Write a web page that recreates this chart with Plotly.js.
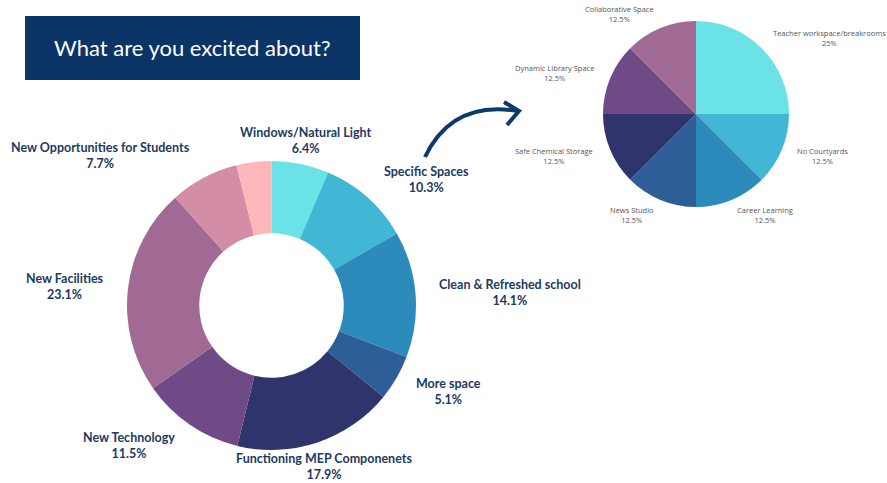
<!DOCTYPE html>
<html>
<head>
<meta charset="utf-8">
<script src="https://cdn.plot.ly/plotly-3.0.1.min.js"></script>
<style>html,body{margin:0;padding:0;background:#fff;}#chart{width:887px;height:483px;}</style>
</head>
<body>
<div id="chart"></div>
<script>
// ---- Data ----
var titleText = "What are you excited about?";

var donutLabels = ["Windows/Natural Light", "Specific Spaces", "Clean & Refreshed school", "More space",
  "Functioning MEP Componenets", "New Technology", "New Facilities", "New Opportunities for Students", "Other"];
var donutValues = [6.4, 10.3, 14.1, 5.1, 17.9, 11.5, 23.1, 7.7, 3.9];
var donutColors = ["#6BE3E6", "#42B7D5", "#2C8BBB", "#2E5E98", "#30346C", "#704A86", "#A16A95", "#D48DA7", "#FDB6B9"];
var donutShowLabel = [true, true, true, true, true, true, true, true, false];

var pieLabels = ["Teacher workspace/breakrooms", "No Courtyards", "Career Learning", "News Studio",
  "Safe Chemical Storage", "Dynamic Library Space", "Collaborative Space"];
var pieValues = [25, 12.5, 12.5, 12.5, 12.5, 12.5, 12.5];
var pieColors = ["#6BE3E6", "#42B7D5", "#2C8BBB", "#2E5E98", "#30346C", "#704A86", "#A16A95"];

// ---- Layout helpers (pixel -> paper) ----
var W = 887, H = 483;
function px(x) { return x / W; }
function py(y) { return 1 - y / H; }

// label positions (layout only)
var donutLabelPos = [[305, 140.5], [426, 179.5], [510, 292.5], [449, 391], [324, 466.5], [129, 445], [65, 286], [100, 155.5], null];
var pieLabelPos = [[829, 38], [822, 156], [765, 215], [632, 215], [554, 156], [554.5, 73], [619, 14]];

var traces = [
  {
    type: "pie", labels: donutLabels, values: donutValues, hole: 0.5, sort: false,
    direction: "clockwise", rotation: 0, textinfo: "none", hoverinfo: "label+percent",
    marker: { colors: donutColors, line: { width: 0 } },
    domain: { x: [px(127), px(416)], y: [py(450), py(161)] }, showlegend: false
  },
  {
    type: "pie", labels: pieLabels, values: pieValues, sort: false,
    direction: "clockwise", rotation: 0, textinfo: "none", hoverinfo: "label+percent",
    marker: { colors: pieColors, line: { width: 0 } },
    domain: { x: [px(603), px(789)], y: [py(207), py(21)] }, showlegend: false
  }
];

var annotations = [];
donutLabels.forEach(function (l, i) {
  if (!donutShowLabel[i]) return;
  var p = donutLabelPos[i];
  annotations.push({
    xref: "paper", yref: "paper", x: px(p[0]), y: py(p[1]), xanchor: "center", yanchor: "middle",
    showarrow: false, align: "center",
    text: "<b>" + l.replace(/&/g, "&amp;") + "<br>" + donutValues[i].toFixed(1) + "%</b>",
    font: { family: "Lato, 'Open Sans', sans-serif", size: 12.5, color: "#1B3A63" }
  });
});
pieLabels.forEach(function (l, i) {
  var p = pieLabelPos[i];
  annotations.push({
    xref: "paper", yref: "paper", x: px(p[0]), y: py(p[1]), xanchor: "center", yanchor: "middle",
    showarrow: false, align: "center",
    text: l + "<br>" + String(pieValues[i]) + "%",
    font: { family: "'Open Sans', sans-serif", size: 7.5, color: "#555555" }
  });
});
annotations.push({
  xref: "paper", yref: "paper", x: px(192.5), y: py(48), xanchor: "center", yanchor: "middle",
  showarrow: false, text: titleText,
  font: { family: "Lato, 'Open Sans', sans-serif", size: 22, color: "#FFFFFF" }
});

var shapes = [
  {
    type: "rect", xref: "paper", yref: "paper", x0: px(25), x1: px(360), y0: py(80), y1: py(16),
    fillcolor: "#0B3467", line: { width: 0 }, layer: "below"
  },
  {
    type: "path", xref: "paper", yref: "paper",
    path: "M " + px(425) + "," + py(157) + " Q " + px(452) + "," + py(100) + " " + px(518) + "," + py(111),
    line: { color: "#0B3A6B", width: 4 }
  },
  {
    type: "path", xref: "paper", yref: "paper",
    path: "M " + px(504) + "," + py(102) + " L " + px(519) + "," + py(111) + " L " + px(507) + "," + py(125),
    line: { color: "#0B3A6B", width: 4 }
  }
];

var layout = {
  width: W, height: H, margin: { l: 0, r: 0, t: 0, b: 0 },
  paper_bgcolor: "#FFFFFF", plot_bgcolor: "#FFFFFF",
  showlegend: false, annotations: annotations, shapes: shapes
};

Plotly.newPlot("chart", traces, layout, { displayModeBar: false, staticPlot: true });
</script>
</body>
</html>
